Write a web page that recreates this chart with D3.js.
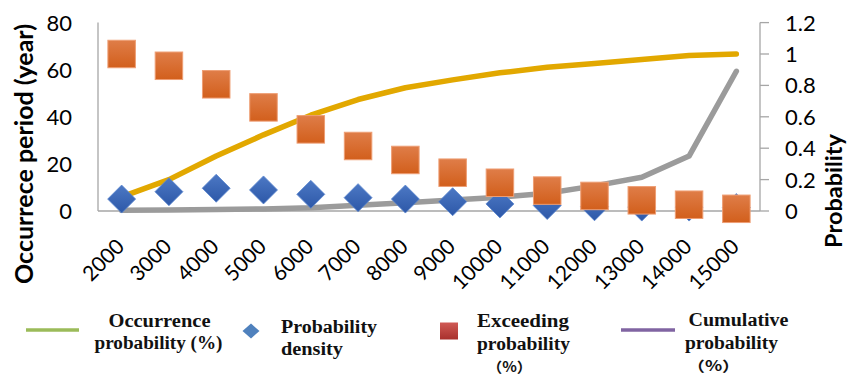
<!DOCTYPE html>
<html>
<head>
<meta charset="utf-8">
<script src="https://cdn.jsdelivr.net/npm/d3@7"></script>
<style>
  html, body { margin: 0; padding: 0; background: #fff; }
  svg { display: block; }
</style>
</head>
<body>
<svg id="chart" width="848" height="376"></svg>
<script>
// ---- data ----
const categories = ["2000","3000","4000","5000","6000","7000","8000","9000","10000","11000","12000","13000","14000","15000"];
const occurrenceProbability = [0.09, 0.2, 0.35, 0.485, 0.61, 0.71, 0.785, 0.835, 0.88, 0.915, 0.94, 0.965, 0.99, 1.0];
const probabilityDensity = [0.076, 0.123, 0.145, 0.134, 0.106, 0.085, 0.076, 0.059, 0.045, 0.035, 0.027, 0.025, 0.025, 0.022];
const exceedingProbability = [1.0, 0.925, 0.807, 0.66, 0.52, 0.414, 0.325, 0.244, 0.18, 0.13, 0.096, 0.068, 0.04, 0.014];
const cumulativeProbability = [0.004, 0.006, 0.009, 0.013, 0.02, 0.036, 0.052, 0.07, 0.088, 0.113, 0.16, 0.215, 0.35, 0.89];
const leftTicks = [0, 20, 40, 60, 80];
const rightTicks = [0, 0.2, 0.4, 0.6, 0.8, 1, 1.2];
const leftTitle = "Occurrece period (year)";
const rightTitle = "Probability";

const svg = d3.select("#chart");
const plot = { left: 98, right: 760, top: 22.6, bottom: 211 };

const x = d3.scaleBand().domain(categories).range([plot.left, plot.right]);
const yL = d3.scaleLinear().domain([0, 80]).range([plot.bottom, plot.top]);
const yR = d3.scaleLinear().domain([0, 1.2]).range([plot.bottom, plot.top]);
const cx = d => x(d) + x.bandwidth() / 2;

// gradients
const defs = svg.append("defs");
const g1 = defs.append("linearGradient").attr("id", "gOrange").attr("x1", 0).attr("y1", 0).attr("x2", 0).attr("y2", 1);
g1.append("stop").attr("offset", "0%").attr("stop-color", "#DF7D48");
g1.append("stop").attr("offset", "100%").attr("stop-color", "#D25F1C");
const g2 = defs.append("linearGradient").attr("id", "gBlue").attr("x1", 0).attr("y1", 0).attr("x2", 0).attr("y2", 1);
g2.append("stop").attr("offset", "0%").attr("stop-color", "#4C78C4");
g2.append("stop").attr("offset", "100%").attr("stop-color", "#2D58A8");
const g3 = defs.append("linearGradient").attr("id", "gRed").attr("x1", 0).attr("y1", 0).attr("x2", 0).attr("y2", 1);
g3.append("stop").attr("offset", "0%").attr("stop-color", "#D05A55");
g3.append("stop").attr("offset", "100%").attr("stop-color", "#A8302C");

const axisColor = "#A6A6A6";

// axes lines
svg.append("line").attr("x1", plot.left).attr("x2", plot.left).attr("y1", plot.top).attr("y2", plot.bottom)
  .attr("stroke", axisColor).attr("stroke-width", 1.3);
svg.append("line").attr("x1", plot.right).attr("x2", plot.right).attr("y1", plot.top).attr("y2", plot.bottom)
  .attr("stroke", axisColor).attr("stroke-width", 1.3);
svg.append("line").attr("x1", plot.left).attr("x2", plot.right).attr("y1", plot.bottom).attr("y2", plot.bottom)
  .attr("stroke", axisColor).attr("stroke-width", 1.3);

// right ticks
svg.selectAll(".rtick").data(rightTicks).enter().append("line")
  .attr("x1", plot.right).attr("x2", plot.right + 9)
  .attr("y1", d => yR(d)).attr("y2", d => yR(d))
  .attr("stroke", axisColor).attr("stroke-width", 1.3);

const tickFont = "Lato, 'Open Sans', sans-serif";
svg.selectAll(".ltl").data(leftTicks).enter().append("text")
  .attr("x", 72).attr("y", d => yL(d)).attr("dy", "0.36em")
  .attr("text-anchor", "end").attr("font-family", tickFont).attr("font-size", 22).attr("fill", "#000")
  .text(d => d);
svg.selectAll(".rtl").data(rightTicks).enter().append("text")
  .attr("x", 785).attr("y", d => yR(d)).attr("dy", "0.36em")
  .attr("text-anchor", "start").attr("font-family", tickFont).attr("font-size", 22).attr("fill", "#000")
  .text(d => d3.format("~g")(d));

// x labels
svg.selectAll(".xl").data(categories).enter().append("text")
  .attr("transform", d => `translate(${cx(d) + 4},248) rotate(-45)`)
  .attr("text-anchor", "end").attr("font-family", tickFont).attr("font-size", 21).attr("fill", "#000")
  .text(d => d);

// titles
svg.append("text").attr("transform", "translate(33,154) rotate(-90)")
  .attr("text-anchor", "middle").attr("font-family", tickFont).attr("font-weight", "bold")
  .attr("font-size", 25).attr("fill", "#000").text(leftTitle);
svg.append("text").attr("transform", "translate(842,191) rotate(-90)")
  .attr("text-anchor", "middle").attr("font-family", tickFont).attr("font-weight", "bold")
  .attr("font-size", 23.5).attr("fill", "#000").text(rightTitle);

// lines
const line = d3.line().x((d, i) => cx(categories[i])).y(d => yR(d));
svg.append("path").datum(occurrenceProbability).attr("d", line)
  .attr("fill", "none").attr("stroke", "#E2A800").attr("stroke-width", 5.5).attr("stroke-linejoin", "round").attr("stroke-linecap", "round");
svg.append("path").datum(cumulativeProbability).attr("d", line)
  .attr("fill", "none").attr("stroke", "#9B9B9B").attr("stroke-width", 5.5).attr("stroke-linejoin", "round").attr("stroke-linecap", "round");

// diamonds
const dh = 14;
svg.selectAll(".dia").data(probabilityDensity).enter().append("path")
  .attr("transform", (d, i) => `translate(${cx(categories[i])},${yR(d)})`)
  .attr("d", `M0,${-dh}L${dh},0L0,${dh}L${-dh},0Z`)
  .attr("fill", "url(#gBlue)").attr("stroke", "#5A86CF").attr("stroke-width", 0.8);

// squares
const sq = 27.5;
svg.selectAll(".sq").data(exceedingProbability).enter().append("rect")
  .attr("x", (d, i) => cx(categories[i]) - sq / 2).attr("y", d => yR(d) - sq / 2)
  .attr("width", sq).attr("height", sq)
  .attr("fill", "url(#gOrange)").attr("stroke", "#EE9E74").attr("stroke-width", 1);

// legend
const legFont = "'Liberation Serif', 'Times New Roman', serif";
const cjkFont = "'Noto Sans CJK SC', 'Liberation Serif', serif";
const leg = svg.append("g");
leg.append("line").attr("x1", 26).attr("x2", 79).attr("y1", 330).attr("y2", 330).attr("stroke", "#9BBB59").attr("stroke-width", 3.5);
leg.append("path").attr("transform", "translate(251,331)").attr("d", "M0,-7.5L8.5,0L0,7.5L-8.5,0Z").attr("fill", "#4F81BD");
leg.append("rect").attr("x", 440).attr("y", 322.5).attr("width", 18).attr("height", 17).attr("fill", "url(#gRed)");
leg.append("line").attr("x1", 621).attr("x2", 675).attr("y1", 330).attr("y2", 330).attr("stroke", "#8064A2").attr("stroke-width", 3.5);

const legTexts = [
  { t: "Occurrence", x: 108.5, y: 327, w: 102, f: legFont, s: 18 },
  { t: "probability (%)", x: 94.5, y: 349, w: 128, f: legFont, s: 18 },
  { t: "Probability", x: 281, y: 332.7, w: 96, f: legFont, s: 18 },
  { t: "density", x: 281, y: 355.3, w: 62, f: legFont, s: 18 },
  { t: "Exceeding", x: 477, y: 327.3, w: 92, f: legFont, s: 18 },
  { t: "probability", x: 477, y: 350, w: 93, f: legFont, s: 18 },
  { t: "（%）", x: 487, y: 371.5, w: 45, f: cjkFont, s: 14 },
  { t: "Cumulative", x: 688.5, y: 325.7, w: 100, f: legFont, s: 18 },
  { t: "probability", x: 685, y: 348.5, w: 93, f: legFont, s: 18 },
  { t: "（%）", x: 687, y: 371, w: 53, f: cjkFont, s: 14 }
];
leg.selectAll(".lt").data(legTexts).enter().append("text")
  .attr("x", d => d.x).attr("y", d => d.y)
  .attr("font-family", d => d.f).attr("font-weight", "bold").attr("font-size", d => d.s).attr("fill", "#111")
  .attr("textLength", d => d.w).attr("lengthAdjust", "spacingAndGlyphs")
  .text(d => d.t);
</script>
</body>
</html>
